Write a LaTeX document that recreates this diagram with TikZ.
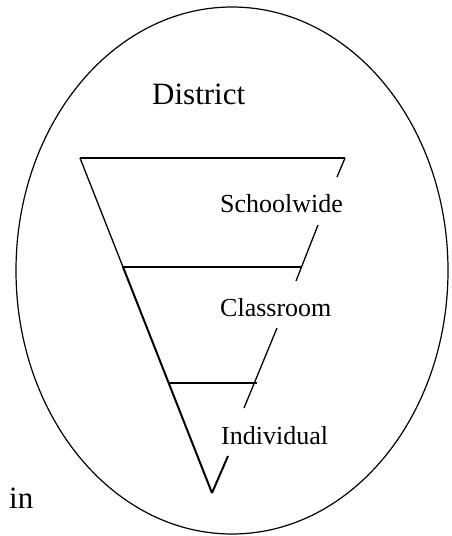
\documentclass[tikz,border=0pt]{standalone}
\usepackage{fontspec}
\setmainfont{Liberation Serif}
\begin{document}
\begin{tikzpicture}[x=1pt,y=-1pt,
  edge/.style={line width=1.3pt,line cap=butt},
  thickedge/.style={line width=2pt},
  lbl/.style={font=\fontsize{26}{28}\selectfont,anchor=base west,inner sep=0pt},
  biglbl/.style={font=\fontsize{31}{34}\selectfont,anchor=base west,inner sep=0pt}]
\useasboundingbox (0,0) rectangle (451,536);
% ellipse
\draw[line width=1.2pt] (232,270.5) ellipse [x radius=216, y radius=263.5];
% vertices
\coordinate (TL) at (80,158);
\coordinate (TR) at (345,158);
\coordinate (A) at (212,493);
\coordinate (L2) at (123,267);
\coordinate (R2) at (301,267);
\coordinate (L3) at (168,383);
\coordinate (R3) at (257,383);
% right edge pieces
\coordinate (r1a) at (337,177);
\coordinate (r2s) at (318,225);
\coordinate (r2e) at (296,281);
\coordinate (r3s) at (277,328);
\coordinate (r3e) at (244,408);
\coordinate (r4s) at (228,456);
% left edge
\draw[edge] (TL) -- (L2);
\draw[thickedge] (L2) -- (A);
% horizontals
\draw[edge] (TL) -- (TR);
\draw[edge] (L2) -- (R2);
\draw[edge] (L3) -- (R3);
% right edge
\draw[edge] (TR) -- (r1a);
\draw[edge] (r2s) -- (r2e);
\draw[edge] (r3s) -- (r3e);
\draw[thickedge] (r4s) -- (A);
% labels
\node[biglbl] (district) at (152,104) {District};
\node[lbl] (school) at (220,212) {Schoolwide};
\node[lbl] (class) at (220,316) {Classroom};
\node[lbl] (indiv) at (221,444) {Individual};
\node[biglbl] (in) at (9,508) {in};
\end{tikzpicture}
\end{document}
